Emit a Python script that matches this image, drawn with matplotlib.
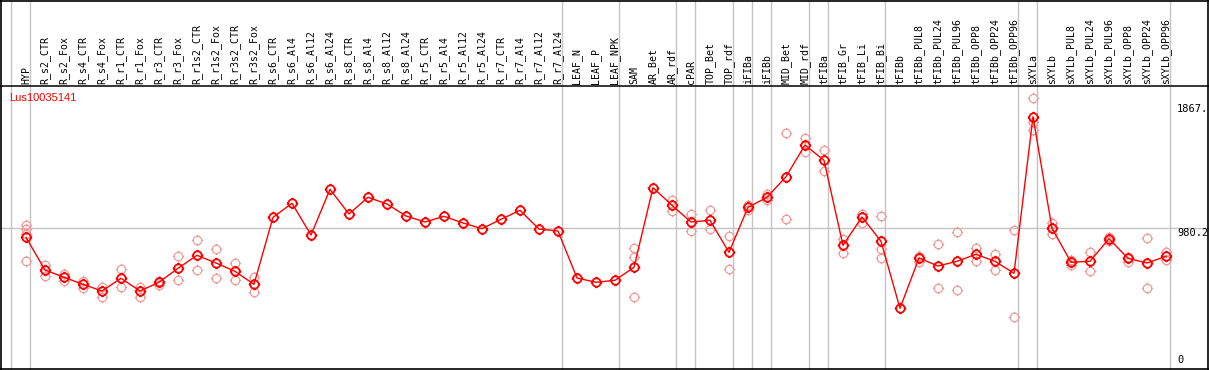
import matplotlib
matplotlib.use("Agg")
import matplotlib.pyplot as plt
from matplotlib.path import Path
from matplotlib.lines import Line2D
import numpy as np

labels = ["HYP", "R_s2_CTR", "R_s2_Fox", "R_s4_CTR", "R_s4_Fox", "R_r1_CTR", "R_r1_Fox",
          "R_r3_CTR", "R_r3_Fox", "R_r1s2_CTR", "R_r1s2_Fox", "R_r3s2_CTR", "R_r3s2_Fox",
          "R_s6_CTR", "R_s6_Al4", "R_s6_Al12", "R_s6_Al24", "R_s8_CTR", "R_s8_Al4",
          "R_s8_Al12", "R_s8_Al24", "R_r5_CTR", "R_r5_Al4", "R_r5_Al12", "R_r5_Al24",
          "R_r7_CTR", "R_r7_Al4", "R_r7_Al12", "R_r7_Al24", "LEAF_N", "LEAF_P", "LEAF_NPK",
          "SAM", "AR_Bet", "AR_rdf", "cPAR", "TOP_Bet", "TOP_rdf", "iFIBa", "iFIBb",
          "MID_Bet", "MID_rdf", "tFIBa", "tFIB_Gr", "tFIB_Li", "tFIB_Bi", "tFIBb",
          "tFIBb_PUL8", "tFIBb_PUL24", "tFIBb_PUL96", "tFIBb_OPP8", "tFIBb_OPP24",
          "tFIBb_OPP96", "sXYLa", "sXYLb", "sXYLb_PUL8", "sXYLb_PUL24", "sXYLb_PUL96",
          "sXYLb_OPP8", "sXYLb_OPP24", "sXYLb_OPP96"]

means = [913.6, 679.7, 627.5, 577.4, 529.4, 620.3, 529.4, 591.7, 691.8, 784.9, 729.8,
         670.4, 577.4, 1056.7, 1156.9, 930.1, 1257.0, 1080.3, 1199.8, 1151.9, 1066.0,
         1023.1, 1063.9, 1016.0, 975.2, 1042.4, 1106.8, 973.0, 958.7, 622.5, 591.7, 606.0,
         699.0, 1268.5, 1142.6, 1023.1, 1035.3, 806.3, 1128.3, 1199.8, 1347.2, 1574.0,
         1464.5, 856.4, 1058.9, 885.0, 405.7, 765.5, 708.3, 741.9, 792.0, 741.9, 656.1,
         1776.5, 978.0, 734.8, 741.9, 903.6, 763.4, 729.8, 777.7]

replicates = [
    [1001.6, 969.5, 940.8, 746.0],   # HYP
    [716.0, 639.0], [653.0, 603.0], [601.0, 549.0], [560.0, 489.0],
    [687.0, 556.0], [560.0, 489.0], [601.0, 572.0], [778.0, 608.0],
    [892.0, 678.0], [828.0, 625.0], [728.0, 606.0], [628.0, 520.0],
    [], [], [], [], [], [], [], [], [], [], [], [], [], [], [], [],  # R_s6..R_r7
    [], [], [],                      # LEAF
    [837.0, 770.6, 484.4],           # SAM
    [],                              # AR_Bet
    [1180.5, 1104.0], [1078.0, 959.0], [1107.0, 971.0], [923.0, 685.0],
    [1145.0, 1111.0], [1223.0, 1180.0], [1660.0, 1045.0], [1624.0, 1522.0],
    [1536.0, 1388.0], [899.0, 803.5], [1082.5, 1018.0], [1064.0, 828.0, 763.0],
    [],                              # tFIBb
    [782.0, 739.0], [866.0, 549.0], [949.0, 534.0], [835.0, 746.0], [794.0, 682.0],
    [964.0, 346.0],
    [1908.0, 1741.0, 1681.0],        # sXYLa
    [1018.0, 935.0], [751.0, 715.5], [806.0, 670.0], [918.0, 889.0], [771.0, 739.0],
    [906.5, 549.0], [808.5, 751.0],
]

group_starts = ["HYP", "R_s2_CTR", "LEAF_N", "SAM", "cPAR", "TOP_Bet", "iFIBa", "iFIBb",
                "MID_Bet", "tFIBa", "tFIB_Gr", "tFIBb", "sXYLa", "sXYLb"]
gene_name = "Lus10035141"
y_marks = [1867.0, 980.2, 0.0]
y_mark_texts = ["1867.", "980.2", "0"]

# ---------------------------------------------------------------
W, H = 1209, 370
fig = plt.figure(figsize=(W / 100, H / 100), dpi=100)
ax = fig.add_axes([0, 0, 1, 1])
for s in ax.spines.values():
    s.set_visible(False)
ax.set_xticks([])
ax.set_yticks([])

# pixel layout (column centre at 26 + 19*i, value 0 at y=365, 0.13977 px/unit)
step = 19.0
x0px = 26.0
ppu = 0.13977
y0px = 365.0
ax.set_xlim((0 - x0px) / step, (W - x0px) / step)
ax.set_ylim((y0px - H) / ppu, y0px / ppu)

n = len(labels)
xs = np.arange(n)

GRAY = "#c4c4c4"
RED = "#ff0000"
PINK = "#f09a9a"

def fy(py):
    return 1 - py / H

def fx(px):
    return px / W

# group separators (vertical, full height)
for g in group_starts:
    i = labels.index(g)
    ax.axvline(i - 15.0 / step, color=GRAY, lw=1.0, zorder=1)
ax.axvline(n - 1 + 4.0 / step, color=GRAY, lw=1.0, zorder=1)

# mid horizontal line
ax.axhline(y_marks[1], color=GRAY, lw=1.0, zorder=1)

# frame
fig.add_artist(Line2D([fx(0.8), fx(0.8)], [0, 1], color="black", lw=1.2))
fig.add_artist(Line2D([fx(1208), fx(1208)], [0, 1], color="black", lw=1.2))
fig.add_artist(Line2D([0, 1], [fy(0.6), fy(0.6)], color="black", lw=1.2))
fig.add_artist(Line2D([0, 1], [fy(368.5), fy(368.5)], color="black", lw=1.2))
fig.add_artist(Line2D([0, 1], [fy(85.5), fy(85.5)], color="black", lw=1.1))

# marker: circle with 4 small ticks
circ = Path.unit_circle()
tick_verts = [(0, 1), (0, 1.35), (0, -1), (0, -1.35), (1, 0), (1.35, 0), (-1, 0), (-1.35, 0)]
tick_codes = [Path.MOVETO, Path.LINETO] * 4
ticks = Path(tick_verts, tick_codes)
marker = Path.make_compound_path(circ, ticks)

# replicates
rx, ry = [], []
for i, reps in enumerate(replicates):
    for v in reps:
        rx.append(i)
        ry.append(v)
ax.plot(rx, ry, linestyle="none", marker=marker, markersize=8.2,
        markerfacecolor="none", markeredgecolor=PINK, markeredgewidth=0.9, zorder=2)

# mean line + markers
ax.plot(xs, means, color=RED, lw=1.0, zorder=3)
ax.plot(xs, means, linestyle="none", marker=marker, markersize=8.2,
        markerfacecolor="none", markeredgecolor=RED, markeredgewidth=1.3, zorder=4)

# column labels
for i, lab in enumerate(labels):
    ax.text(i, fy(83.5), lab, rotation=90, ha="center", va="bottom",
            transform=ax.get_xaxis_transform(), fontsize=7.1,
            family="DejaVu Sans Mono", color="black")

# gene name
fig.text(fx(9), fy(98), gene_name, color=RED, fontsize=8, family="Liberation Sans",
         ha="left", va="center")

# right-side value labels
for v, t in zip(y_marks, y_mark_texts):
    va = "bottom" if v == 0 else "top"
    ax.text(fx(1177), v, t, transform=ax.get_yaxis_transform(), ha="left", va=va,
            fontsize=7.5, family="DejaVu Sans Mono", color="black")

fig.savefig("out.png", dpi=100)
